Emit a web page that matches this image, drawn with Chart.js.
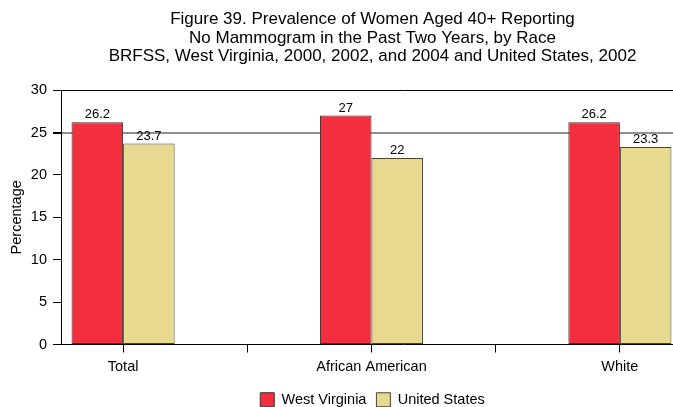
<!DOCTYPE html>
<html>
<head>
<meta charset="utf-8">
<script src="https://cdn.jsdelivr.net/npm/chart.js@4/dist/chart.umd.min.js"></script>
<style>
html,body{margin:0;padding:0;overflow:hidden;background:#fff;}
#wrap{width:745px;height:407px;}
</style>
</head>
<body>
<div id="wrap"><canvas id="c" width="745" height="407"></canvas></div>
<script>
const categories = ['Total', 'African American', 'White'];
const westVirginia = [26.2, 27, 26.2];
const unitedStates = [23.7, 22, 23.3];
const yTicks = [0, 5, 10, 15, 20, 25, 30];
const titleLines = [
  'Figure 39. Prevalence of Women Aged 40+ Reporting',
  'No Mammogram in the Past Two Years, by Race',
  'BRFSS, West Virginia, 2000, 2002, and 2004 and United States, 2002'
];

const FONT = 'Arial, "Liberation Sans", sans-serif';

const valueLabels = {
  id: 'valueLabels',
  afterDatasetsDraw(chart) {
    const ctx = chart.ctx;
    ctx.save();
    ctx.font = '13px ' + FONT;
    ctx.fillStyle = '#000';
    ctx.textAlign = 'center';
    ctx.textBaseline = 'bottom';
    chart.data.datasets.forEach((ds, i) => {
      chart.getDatasetMeta(i).data.forEach((bar, j) => {
        ctx.fillText(String(ds.data[j].y), bar.x, bar.y - 1);
      });
    });
    ctx.restore();
  }
};

new Chart(document.getElementById('c'), {
  type: 'bar',
  data: {
    datasets: [
      {
        label: 'West Virginia',
        data: westVirginia.map((v, i) => ({x: i, y: v})),
        backgroundColor: '#F32E3E',
        borderColor: '#4a2a2a',
        borderWidth: 1,
        borderSkipped: false,
        categoryPercentage: 0.83,
        barPercentage: 1
      },
      {
        label: 'United States',
        data: unitedStates.map((v, i) => ({x: i, y: v})),
        backgroundColor: '#E8D990',
        borderColor: '#4a4630',
        borderWidth: 1,
        borderSkipped: false,
        categoryPercentage: 0.83,
        barPercentage: 1
      }
    ]
  },
  options: {
    responsive: false,
    animation: false,
    layout: { padding: { left: 0, right: 0, top: 0, bottom: -10 } },
    plugins: {
      title: {
        display: true,
        text: titleLines,
        color: '#000',
        font: { family: FONT, size: 17, weight: 'normal', lineHeight: 1.1 },
        padding: { top: 10, bottom: 24 }
      },
      legend: {
        position: 'bottom',
        labels: {
          color: '#000',
          font: { family: FONT, size: 14.5 },
          boxWidth: 14,
          boxHeight: 14,
          padding: 10
        }
      },
      tooltip: { enabled: false }
    },
    scales: {
      x: {
        type: 'linear',
        min: -0.25,
        max: -0.25 + (745 - 61) / 248.4,
        offset: false,
        afterBuildTicks(scale) {
          scale.ticks = [0, 0.5, 1, 1.5, 2].map(v => ({ value: v }));
        },
        afterFit(scale) { scale.height = 38; },
        ticks: {
          autoSkip: false,
          maxRotation: 0,
          color: '#000',
          font: { family: FONT, size: 14.5 },
          padding: 6,
          callback: (v) => Number.isInteger(v) ? categories[v] : ''
        },
        grid: {
          offset: false,
          drawOnChartArea: false,
          drawTicks: true,
          tickLength: 8,
          tickColor: '#000'
        },
        border: { display: true, color: '#000', width: 1 }
      },
      y: {
        min: 0,
        max: 30,
        afterBuildTicks(scale) {
          scale.ticks = yTicks.map(v => ({ value: v }));
        },
        afterFit(scale) { scale.width = 61; },
        ticks: {
          color: '#000',
          font: { family: FONT, size: 14.5 },
          padding: 6
        },
        title: {
          display: true,
          text: 'Percentage',
          color: '#000',
          font: { family: FONT, size: 14.5 },
          padding: { top: 8, bottom: 0 }
        },
        grid: {
          color: (ctx) => ctx.tick && ctx.tick.value === 25 ? '#909090' : (ctx.tick && ctx.tick.value === 30 ? '#000' : 'rgba(0,0,0,0)'),
          lineWidth: (ctx) => ctx.tick && ctx.tick.value === 25 ? 2 : 1,
          tickColor: '#000',
          tickLength: 8
        },
        border: { display: true, color: '#000', width: 1 }
      }
    }
  },
  plugins: [valueLabels]
});
</script>
</body>
</html>
